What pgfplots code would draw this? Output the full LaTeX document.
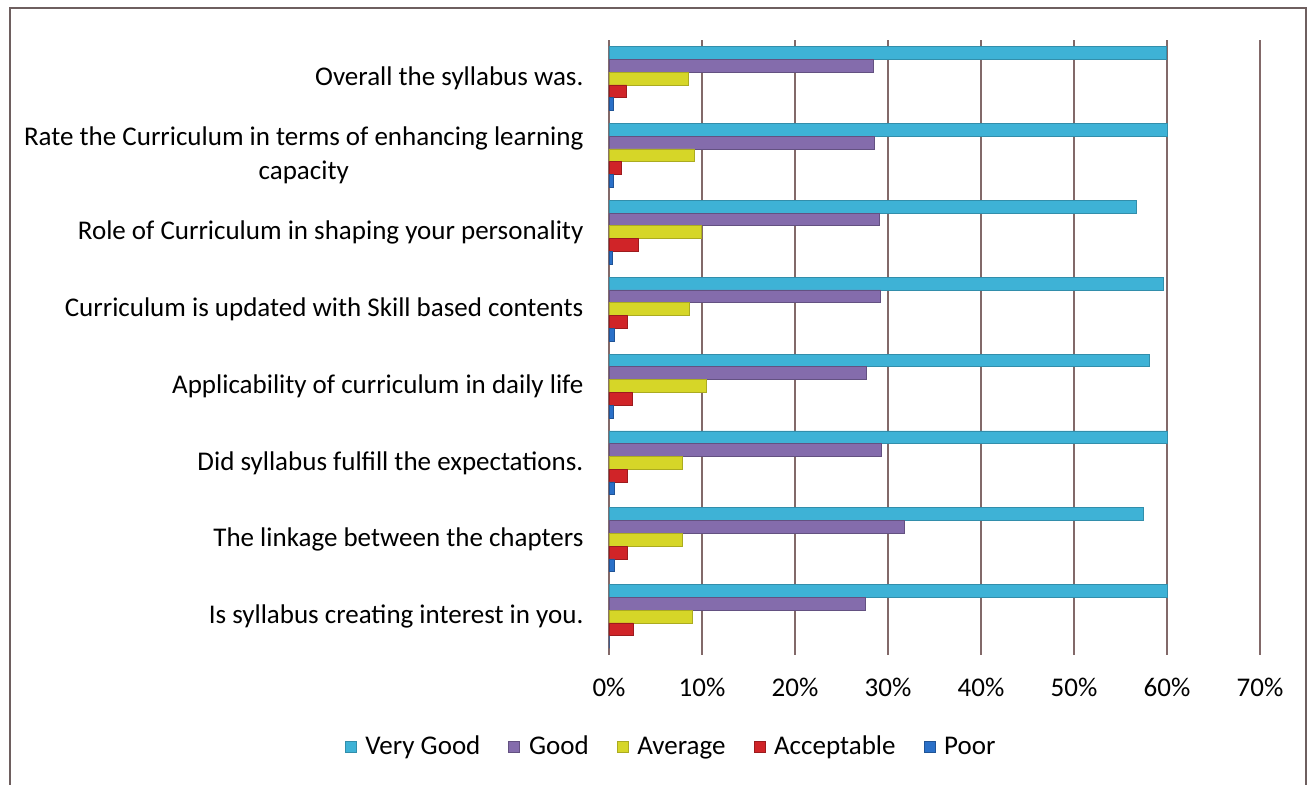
\documentclass[border=0pt]{standalone}
\usepackage{fontspec}
\setmainfont{Carlito}
\usepackage{pgfplots}
\pgfplotsset{compat=1.18}
\definecolor{cVG}{RGB}{62,178,214}
\definecolor{cG}{RGB}{132,108,172}
\definecolor{cAv}{RGB}{214,214,40}
\definecolor{cAc}{RGB}{208,36,40}
\definecolor{cP}{RGB}{42,112,200}
\definecolor{gridc}{RGB}{130,105,105}
\definecolor{framec}{RGB}{110,95,95}
\newcommand{\lf}{\fontsize{13.5}{17}\selectfont}
\begin{document}
\begin{tikzpicture}[font=\lf]
\useasboundingbox (0,0) rectangle (657pt,392.5pt);
\draw[framec, line width=0.9pt] (5pt,0pt) -- (5pt,388.5pt) -- (653pt,388.5pt) -- (653pt,0pt);
\begin{axis}[
  at={(304.5pt,65pt)}, anchor=south west,
  scale only axis, width=325.5pt, height=307.5pt,
  xbar, bar width=0.166,
  xmin=0, xmax=70, ymin=-0.5, ymax=7.5,
  xtick={0,10,...,70},
  xticklabel={\pgfmathprintnumber{\tick}\%},
  /pgf/number format/assume math mode=true,
  ytick={0,...,7},
  yticklabels={{Is syllabus creating interest in you.},
               {The linkage between the chapters},
               {Did syllabus fulfill the expectations.},
               {Applicability of curriculum in daily life},
               {Curriculum is updated with Skill based contents},
               {Role of Curriculum in shaping your personality},
               {Rate the Curriculum in terms of enhancing learning\\capacity},
               {Overall the syllabus was.}},
  every tick label/.append style={font=\lf},
  yticklabel style={align=center, xshift=-5pt},
  xticklabel style={yshift=-8pt},
  axis line style={draw=none},
  tick style={draw=none},
  xmajorgrids, major grid style={gridc, line width=0.7pt},
  legend columns=-1,
  legend style={at={(0.097,-0.1496)}, anchor=center, draw=none, fill=none, font=\lf,
    /tikz/every odd column/.append style={column sep=2.5pt},
    /tikz/every even column/.append style={column sep=12pt}},
  legend image code/.code={\fill[#1] (0pt,-2.75pt) rectangle (5.5pt,2.75pt);},
]
\addplot[fill=cVG, draw=cVG!80!black, line width=0.3pt, bar shift=0.332] coordinates {
 (60,0) (57.5,1) (60,2) (58.1,3) (59.6,4) (56.7,5) (60,6) (59.9,7)};
\addplot[fill=cG, draw=cG!75!black, line width=0.3pt, bar shift=0.166] coordinates {
 (27.6,0) (31.7,1) (29.3,2) (27.7,3) (29.2,4) (29.1,5) (28.5,6) (28.4,7)};
\addplot[fill=cAv, draw=cAv!80!black, line width=0.3pt, bar shift=0] coordinates {
 (9,0) (7.9,1) (7.9,2) (10.5,3) (8.6,4) (9.9,5) (9.2,6) (8.5,7)};
\addplot[fill=cAc, draw=cAc!75!black, line width=0.3pt, bar shift=-0.166] coordinates {
 (2.6,0) (2,1) (2,2) (2.5,3) (2,4) (3.2,5) (1.3,6) (1.9,7)};
\addplot[fill=cP, draw=cP!75!black, line width=0.3pt, bar shift=-0.332] coordinates {
 (0,0) (0.6,1) (0.6,2) (0.5,3) (0.6,4) (0.4,5) (0.5,6) (0.5,7)};
\legend{Very Good, Good, Average, Acceptable, Poor}
\end{axis}
\end{tikzpicture}
\end{document}
